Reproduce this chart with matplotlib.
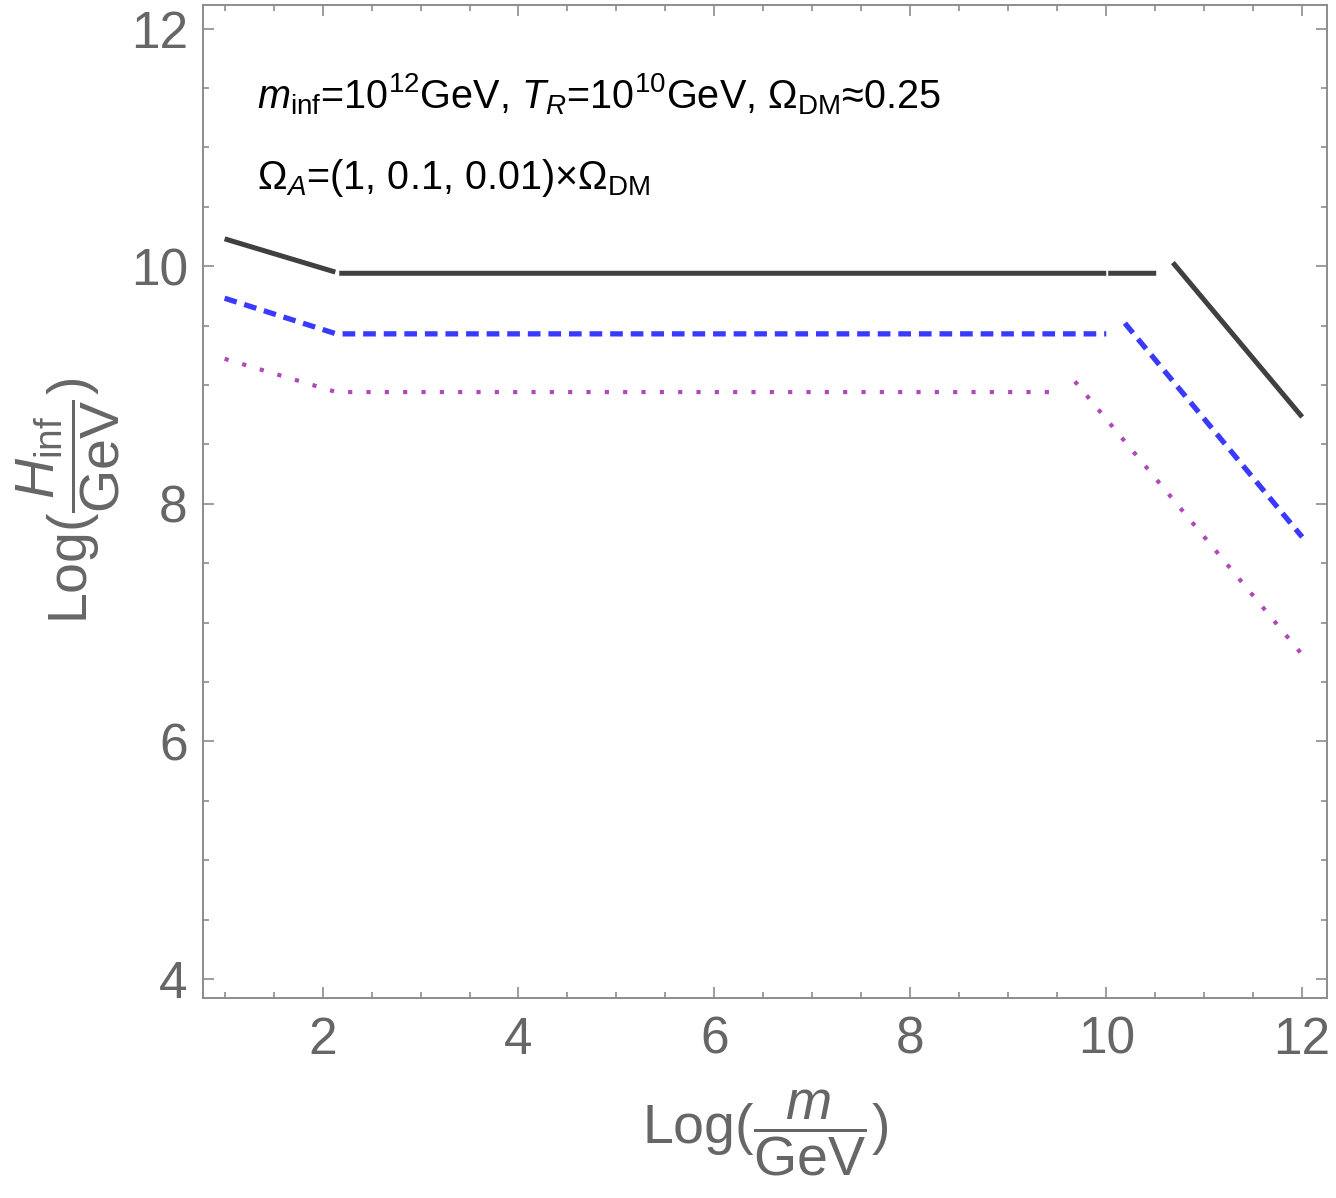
import numpy as np
from matplotlib import pyplot as plt

# data (NaN = break between segments)
nan = np.nan
x_black = [1.0, 2.13, nan, 2.17, 10.0, nan, 10.02, 10.51, nan, 10.68, 12.0]
y_black = [10.23, 9.95, nan, 9.94, 9.94, nan, 9.94, 9.94, nan, 10.03, 8.73]
x_blue = [1.0, 2.14, 10.0, nan, 10.19, 12.0]
y_blue = [9.73, 9.43, 9.43, nan, 9.52, 7.72]
x_mag = [1.0, 2.14, 9.5, nan, 9.68, 12.0]
y_mag = [9.22, 8.94, 8.94, nan, 9.03, 6.73]

xticks = [2, 4, 6, 8, 10, 12]
yticks = [4, 6, 8, 10, 12]

plt.rcParams['font.family'] = ['Liberation Sans', 'DejaVu Sans']
plt.rcParams['mathtext.fontset'] = 'custom'
plt.rcParams['mathtext.rm'] = 'Liberation Sans'
plt.rcParams['mathtext.it'] = 'Liberation Sans:italic'
plt.rcParams['mathtext.bf'] = 'Liberation Sans:bold'

grey = '#666666'

fig = plt.figure(figsize = (13.36, 11.98), dpi = 100)
ax = fig.add_axes([0.152, 0.167, 0.841, 0.829])

ax.plot(x_black, y_black, color = '#404040', lw = 3.6, solid_capstyle = 'butt')
ax.plot(x_blue, y_blue, color = '#3a3aff', lw = 3.8, dashes = (2.4, 1.5))
ax.plot(x_mag, y_mag, color = '#b048b8', lw = 3.0, dashes = (1.0, 3.4))

ax.set_xlim(0.78, 12.25)
ax.set_ylim(3.84, 12.2)
ax.set_xticks(xticks)
ax.set_yticks(yticks)
ax.set_xticks(np.arange(1.0, 12.01, 0.5), minor = True)
ax.set_yticks(np.arange(4.0, 12.01, 0.5), minor = True)

for s in ax.spines.values():
    s.set_color('#8c8c8c')
    s.set_linewidth(1.4)
ax.tick_params(which = 'both', direction = 'in', top = True, right = True,
               color = '#8c8c8c', width = 1.2)
ax.tick_params(which = 'major', length = 8)
ax.tick_params(which = 'minor', length = 4.5)
ax.tick_params(axis = 'x', which = 'major', labelsize = 37, labelcolor = grey, pad = 13)
ax.tick_params(axis = 'y', which = 'major', labelsize = 37, labelcolor = grey, pad = 11)

ax.set_xlabel(r'Log$(\dfrac{m}{\mathrm{GeV}})$', fontsize = 40, color = grey, labelpad = 16)
ax.set_ylabel(r'Log$(\dfrac{H_{\mathrm{inf}}}{\mathrm{GeV}})$', fontsize = 40, color = grey, labelpad = 6)

ax.text(0.048, 0.91, r'$m_{\mathrm{inf}}$=10$^{12}$GeV, $T_R$=10$^{10}$GeV, $\Omega_{\mathrm{DM}}$≈0.25',
        transform = ax.transAxes, fontsize = 28.5, color = 'black', va = 'center')
ax.text(0.048, 0.826, r'$\Omega_A$=(1, 0.1, 0.01)×$\Omega_{\mathrm{DM}}$',
        transform = ax.transAxes, fontsize = 28.5, color = 'black', va = 'center')

plt.savefig('out.png', dpi = 100)
